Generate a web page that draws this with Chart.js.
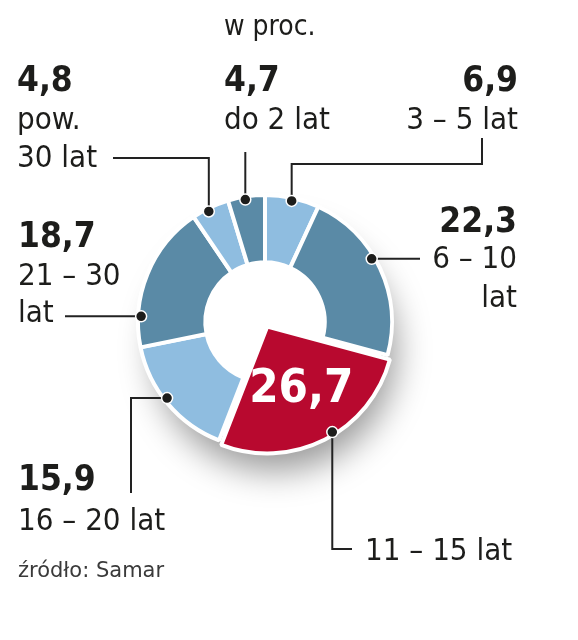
<!DOCTYPE html>
<html>
<head>
<meta charset="utf-8">
<script src="https://cdn.jsdelivr.net/npm/chart.js@4/dist/chart.umd.min.js"></script>
<style>
  html, body { margin: 0; padding: 0; background: #fff; }
  #wrap { width: 578px; height: 640px; }
</style>
</head>
<body>
<div id="wrap"><canvas id="chart" width="578" height="640"></canvas></div>
<script>
// data (w proc.)
const categories = ['3 – 5 lat', '6 – 10\nlat', '11 – 15 lat', '16 – 20 lat', '21 – 30\nlat', 'pow.\n30 lat', 'do 2 lat'];
const shares = [6.9, 22.3, 26.7, 15.9, 18.7, 4.8, 4.7];
const unitNote = 'w proc.';
const sourceNote = 'źródło: Samar';

const DARK = '#5a8aa6', LIGHT = '#8fbde0', RED = '#b8092f';
const sliceColors = [LIGHT, DARK, RED, LIGHT, DARK, LIGHT, DARK];
const highlight = 2;

const FONT = '"DejaVu Sans Condensed", "DejaVu Sans", sans-serif';
const INK = '#1d1d1b';

// label placement: text anchor, baselines, leader route, where on the slice the dot sits
const labelLayout = [
  { x: 518, align: 'right', base: [91, 129],      frac: 0.5,  route: [['v', 164], ['h', 482], ['v', 138]] },
  { x: 517, align: 'right', base: [232, 268, 307], frac: 0.43, route: [['h', 420]] },
  { x: 365, align: 'left',  base: [null, 560],     frac: 0.45, route: [['v', 549], ['h', 352]], inside: true },
  { x: 18,  align: 'left',  base: [490, 530],      frac: 0.54, route: [['h', 131], ['v', 493]] },
  { x: 18,  align: 'left',  base: [247, 285, 322], frac: 0.21, route: [['h', 65]] },
  { x: 17,  align: 'left',  base: [91, 129, 167],  frac: 0.42, route: [['v', 158], ['h', 113]] },
  { x: 224, align: 'left',  base: [91, 129],       frac: 0.46, route: [['v', 152]] }
];

const fmt = v => v.toFixed(1).replace('.', ',');

const shadowAndWedge = {
  id: 'shadowAndWedge',
  beforeDatasetsDraw(chart) {
    const meta = chart.getDatasetMeta(0);
    const a0 = meta.data[0];
    const ctx = chart.ctx;
    // red slice is a full wedge, not a ring piece
    meta.data[highlight].innerRadius = 0;
    ctx.save();
    ctx.shadowColor = 'rgba(0,0,0,0.40)';
    ctx.shadowBlur = 34;
    ctx.shadowOffsetX = 10;
    ctx.shadowOffsetY = 28;
    ctx.fillStyle = '#fff';
    ctx.beginPath();
    ctx.arc(a0.x, a0.y, a0.outerRadius - 6, 0, Math.PI * 2);
    ctx.fill();
    ctx.restore();
  }
};

const calloutLabels = {
  id: 'calloutLabels',
  afterDatasetsDraw(chart) {
    const ctx = chart.ctx;
    const meta = chart.getDatasetMeta(0);
    ctx.save();

    // unit note
    ctx.fillStyle = INK;
    ctx.font = '28px ' + FONT;
    ctx.textAlign = 'left';
    ctx.textBaseline = 'alphabetic';
    ctx.fillText(unitNote, 224, 35);

    meta.data.forEach((arc, i) => {
      const lay = labelLayout[i];
      const off = (arc.options.offset || 0) / 4;
      const mid = (arc.startAngle + arc.endAngle) / 2;
      const ox = Math.cos(mid) * off, oy = Math.sin(mid) * off;
      const ang = arc.startAngle + lay.frac * (arc.endAngle - arc.startAngle);
      const r = arc.outerRadius - 3;
      const dx = arc.x + ox + Math.cos(ang) * r;
      const dy = arc.y + oy + Math.sin(ang) * r;

      // leader
      ctx.strokeStyle = '#222';
      ctx.lineWidth = 2;
      ctx.beginPath();
      let px = dx, py = dy;
      ctx.moveTo(px, py);
      lay.route.forEach(([dir, v]) => {
        if (dir === 'v') py = v; else px = v;
        ctx.lineTo(px, py);
      });
      ctx.stroke();

      // dot
      ctx.beginPath();
      ctx.arc(dx, dy, 5.5, 0, Math.PI * 2);
      ctx.fillStyle = INK;
      ctx.fill();
      ctx.lineWidth = 1.5;
      ctx.strokeStyle = '#fff';
      ctx.stroke();

      // texts
      ctx.textAlign = lay.align;
      ctx.textBaseline = 'alphabetic';
      ctx.fillStyle = INK;
      const lines = categories[i].split('\n');
      if (lay.inside) {
        ctx.save();
        ctx.fillStyle = '#fff';
        ctx.font = 'bold 47px ' + FONT;
        ctx.textAlign = 'center';
        ctx.textBaseline = 'middle';
        const tr = arc.outerRadius * 0.56;
        ctx.fillText(fmt(shares[i]), arc.x + ox + Math.cos(mid) * tr + 2, arc.y + oy + Math.sin(mid) * tr);
        ctx.restore();
      } else {
        ctx.font = 'bold 35px ' + FONT;
        ctx.fillText(fmt(shares[i]), lay.x, lay.base[0]);
      }
      ctx.font = '31px ' + FONT;
      lines.forEach((t, k) => ctx.fillText(t, lay.x, lay.base[k + 1]));
    });

    // source
    ctx.fillStyle = '#3a3a3a';
    ctx.font = '21px "DejaVu Sans", sans-serif';
    ctx.textAlign = 'left';
    ctx.fillText(sourceNote, 18, 577);
    ctx.restore();
  }
};

new Chart(document.getElementById('chart'), {
  type: 'doughnut',
  data: {
    labels: categories,
    datasets: [{
      data: shares,
      backgroundColor: sliceColors,
      borderColor: '#fff',
      borderWidth: 4,
      offset: shares.map((v, i) => i === highlight ? 20 : 0),
      radius: 127,
      cutout: '47%'
    }]
  },
  options: {
    responsive: false,
    animation: false,
    layout: { padding: { left: 0, right: 48, top: 4, bottom: 0 } },
    plugins: { legend: { display: false }, tooltip: { enabled: false } }
  },
  plugins: [shadowAndWedge, calloutLabels]
});
</script>
</body>
</html>
